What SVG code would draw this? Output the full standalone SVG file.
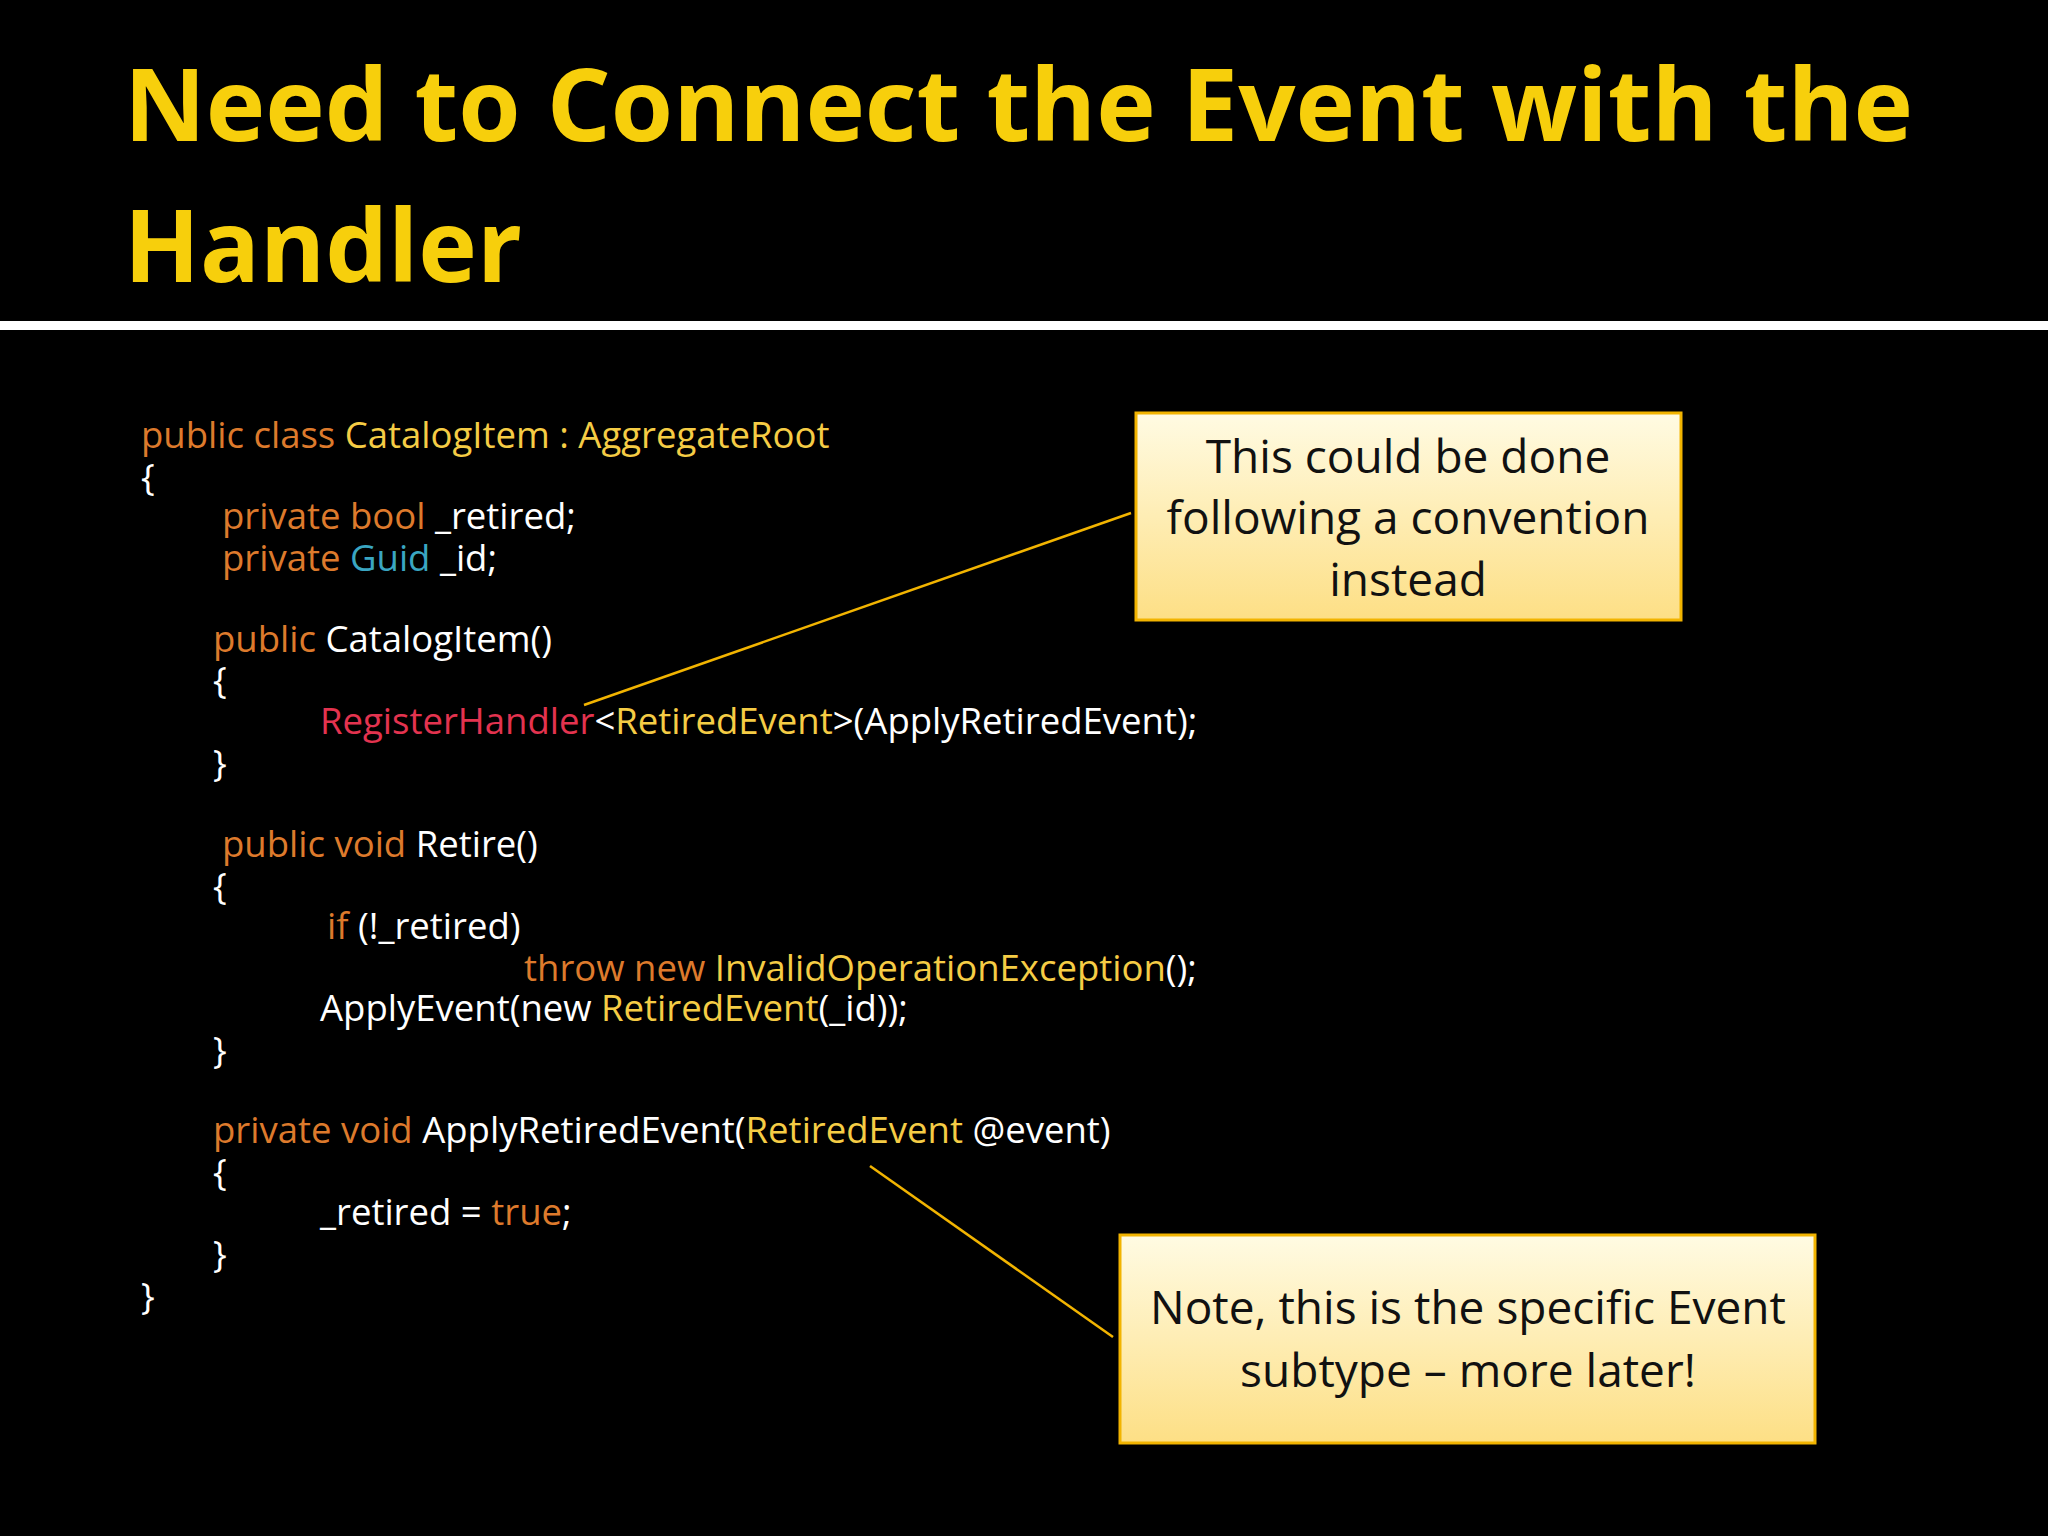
<svg xmlns="http://www.w3.org/2000/svg" width="2048" height="1536" viewBox="0 0 2048 1536">
<defs>
<linearGradient id="g" x1="0" y1="0" x2="0" y2="1"><stop offset="0" stop-color="#fffbe3"/><stop offset="1" stop-color="#fddf85"/></linearGradient>
<style>
.t{font-family:"Open Sans","Liberation Sans",sans-serif;font-weight:bold;fill:#f7cf0c;font-size:100px}
.c{font-family:"Open Sans","Liberation Sans",sans-serif;font-size:36.5px;fill:#fff}
.k{fill:#dd7a2c}.y{fill:#f5cc45}.b{fill:#3aa6c2}.r{fill:#e3334f}
.n{font-family:"Open Sans","Liberation Sans",sans-serif;font-size:46px;fill:#111;text-anchor:middle}
.box{fill:url(#g);stroke:#f2b400;stroke-width:3}
.ln{stroke:#f2b400;stroke-width:2.5}
</style>
</defs>
<rect width="2048" height="1536" fill="#000"/>
<text class="t" x="124" y="141" textLength="1789" lengthAdjust="spacingAndGlyphs">Need to Connect the Event with the</text>
<text class="t" x="124" y="282" textLength="398" lengthAdjust="spacingAndGlyphs">Handler</text>
<rect x="0" y="321" width="2048" height="9" fill="#fff"/>
<g id="code" class="c">
<text x="141" y="448"><tspan class="k">public class </tspan><tspan class="y">CatalogItem : AggregateRoot</tspan></text>
<text x="141" y="490">{</text>
<text x="222" y="529"><tspan class="k">private bool </tspan>_retired;</text>
<text x="222" y="571"><tspan class="k">private </tspan><tspan class="b">Guid </tspan>_id;</text>
<text x="213" y="652"><tspan class="k">public </tspan>CatalogItem()</text>
<text x="213" y="693">{</text>
<text x="320" y="734"><tspan class="r">RegisterHandler</tspan>&lt;<tspan class="y">RetiredEvent</tspan>&gt;(ApplyRetiredEvent);</text>
<text x="213" y="776">}</text>
<text x="222" y="857"><tspan class="k">public void </tspan>Retire()</text>
<text x="213" y="899">{</text>
<text x="327" y="939"><tspan class="k">if </tspan>(!_retired)</text>
<text x="524" y="981"><tspan class="k">throw new </tspan><tspan class="y">InvalidOperationException</tspan>();</text>
<text x="320" y="1021">ApplyEvent(new <tspan class="y">RetiredEvent</tspan>(_id));</text>
<text x="213" y="1063">}</text>
<text x="213" y="1143"><tspan class="k">private void </tspan>ApplyRetiredEvent(<tspan class="y">RetiredEvent </tspan>@event)</text>
<text x="213" y="1185">{</text>
<text x="320" y="1225">_retired = <tspan class="k">true</tspan>;</text>
<text x="213" y="1267">}</text>
<text x="141" y="1309">}</text>
</g>
<g id="connectors">
<line class="ln" x1="584" y1="705" x2="1131" y2="513"/>
<line class="ln" x1="870" y1="1166" x2="1113" y2="1337"/>
</g>
<g id="note1">
<rect class="box" x="1136" y="413" width="545" height="207"/>
<text class="n" x="1408" y="473">This could be done</text>
<text class="n" x="1408" y="534">following a convention</text>
<text class="n" x="1408" y="596">instead</text>
</g>
<g id="note2">
<rect class="box" x="1120" y="1235" width="695" height="208"/>
<text class="n" x="1468" y="1324">Note, this is the specific Event</text>
<text class="n" x="1468" y="1387">subtype – more later!</text>
</g>
</svg>
